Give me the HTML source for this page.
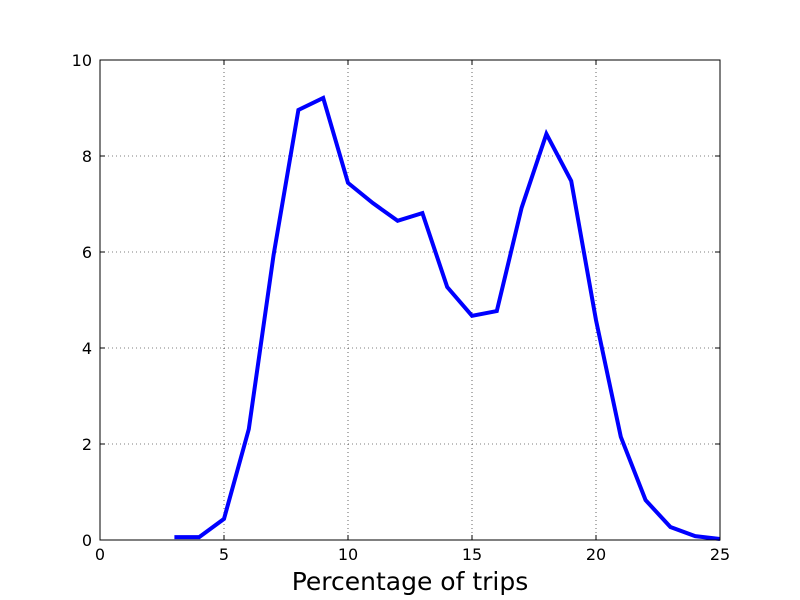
<!DOCTYPE html>
<html><head><meta charset="utf-8"><style>
body{margin:0;background:#fff;}
svg{display:block;font-family:"DejaVu Sans","Liberation Sans",sans-serif;}
</style></head><body>
<svg id="chart" width="800" height="600">
<rect x="0" y="0" width="800" height="600" fill="#fff"/>
<g id="grid"></g>
<g id="series"></g>
<rect x="100" y="60" width="620" height="480" fill="none" stroke="#000" stroke-width="1"/>
<g id="ticks"></g>
<text x="410" y="590" text-anchor="middle" font-size="25">Percentage of trips</text>
</svg>
<script>
const xValues=[3,4,5,6,7,8,9,10,11,12,13,14,15,16,17,18,19,20,21,22,23,24,25];
const yValues=[0.06,0.06,0.44,2.31,5.94,8.96,9.21,7.44,7.02,6.65,6.81,5.27,4.67,4.77,6.92,8.46,7.48,4.58,2.15,0.83,0.27,0.08,0.02];
const xTicks=[0,5,10,15,20,25];
const yTicks=[0,2,4,6,8,10];
const NS="http://www.w3.org/2000/svg";
const X0=100,X1=720,Y0=540,Y1=60;
function xs(v){return X0+(v-0)/(25-0)*(X1-X0);}
function ys(v){return Y0-(v-0)/(10-0)*(Y0-Y1);}
function mk(tag,attrs,parent){const e=document.createElementNS(NS,tag);for(const k in attrs)e.setAttribute(k,attrs[k]);parent.appendChild(e);return e;}
const grid=document.getElementById('grid'),ticks=document.getElementById('ticks'),series=document.getElementById('series');
xTicks.forEach(t=>{
  const x=xs(t);
  const g=mk('line',{x1:x,x2:x,y1:Y1,y2:Y0,stroke:'#000','stroke-width':0.6,'stroke-dasharray':'1,3'},grid);
  
  
  const a=mk('line',{x1:x,x2:x,y1:Y0,y2:Y0-5,stroke:'#000'},ticks);
  
  
  const b=mk('line',{x1:x,x2:x,y1:Y1,y2:Y1+5,stroke:'#000'},ticks);
  
  
  const l=mk('text',{x:x,y:Y0+20,'text-anchor':'middle','font-size':16},ticks);
  l.textContent=t;
  
  
});
yTicks.forEach(t=>{
  const y=ys(t);
  const g=mk('line',{x1:X0,x2:X1,y1:y,y2:y,stroke:'#000','stroke-width':0.6,'stroke-dasharray':'1,3'},grid);
  
  
  const a=mk('line',{x1:X0,x2:X0+5,y1:y,y2:y,stroke:'#000'},ticks);
  
  
  const b=mk('line',{x1:X1,x2:X1-5,y1:y,y2:y,stroke:'#000'},ticks);
  
  
  const l=mk('text',{x:X0-8,y:y+6,'text-anchor':'end','font-size':16},ticks);
  l.textContent=t;
  
  
});
const pts=xValues.map((v,i)=>xs(v)+','+ys(yValues[i])).join(' ');
const line=mk('polyline',{points:pts,fill:'none',stroke:'#0000ff','stroke-width':4,'stroke-linejoin':'miter'},series);


</script>
</body></html>
